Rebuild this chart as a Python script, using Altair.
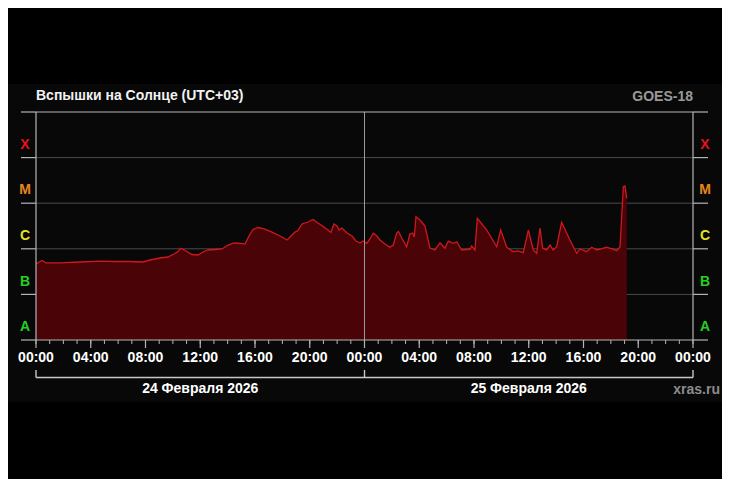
import altair as alt
import pandas as pd

# Hours since 24 Feb 2026 00:00 (UTC+03) and GOES X-ray flux (W/m^2)
hours = [0.00, 0.22, 0.44, 0.73, 1.75, 3.21, 4.68, 5.77, 6.87, 7.82, 8.33, 9.06, 9.64, 10.08,
         10.37, 10.59, 10.96, 11.40, 11.84, 12.20, 12.57, 13.15, 13.59, 14.03, 14.47, 14.98,
         15.27, 15.56, 15.85, 16.22, 16.66, 17.24, 17.83, 18.34, 18.63, 18.92, 19.14, 19.43,
         19.87, 20.24, 20.60, 21.04, 21.55, 21.77, 21.99, 22.14, 22.36, 22.72, 23.09, 23.38,
         23.67, 23.89, 24.16, 24.40, 24.64, 24.91, 25.13, 25.50, 25.86, 26.10, 26.35, 26.48,
         26.72, 27.08, 27.32, 27.52, 27.64, 27.76, 28.05, 28.42, 28.79, 29.15, 29.52, 29.88,
         30.12, 30.49, 30.74, 31.10, 31.42, 31.71, 31.83, 32.07, 32.24, 32.93, 33.66, 33.95,
         34.39, 34.87, 35.21, 35.60, 35.97, 36.33, 36.58, 36.82, 37.02, 37.31, 37.55, 37.79,
         38.04, 38.40, 39.01, 39.50, 39.74, 40.23, 40.60, 40.97, 41.28, 41.69, 42.08, 42.43,
         42.67, 42.91, 43.03, 43.16]
flux = [4.64e-7, 5.14e-7, 5.53e-7, 4.89e-7, 4.89e-7, 5.14e-7, 5.39e-7, 5.26e-7, 5.26e-7, 5.14e-7,
        5.68e-7, 6.28e-7, 6.61e-7, 7.69e-7, 8.73e-7, 1.02e-6, 8.96e-7, 7.50e-7, 7.31e-7, 8.51e-7,
        9.42e-7, 9.66e-7, 9.91e-7, 1.21e-6, 1.34e-6, 1.31e-6, 1.27e-6, 1.91e-6, 2.65e-6, 2.93e-6,
        2.72e-6, 2.33e-6, 1.91e-6, 1.56e-6, 1.91e-6, 2.33e-6, 2.52e-6, 3.50e-6, 3.87e-6, 4.40e-6,
        3.68e-6, 3.01e-6, 2.28e-6, 3.50e-6, 3.16e-6, 2.58e-6, 2.86e-6, 2.22e-6, 1.91e-6, 1.48e-6,
        1.34e-6, 1.48e-6, 1.32e-6, 1.64e-6, 2.19e-6, 1.91e-6, 1.56e-6, 1.27e-6, 1.08e-6, 1.21e-6,
        2.22e-6, 2.39e-6, 1.73e-6, 1.11e-6, 2.11e-6, 2.22e-6, 1.82e-6, 5.06e-6, 4.29e-6, 3.16e-6,
        1.04e-6, 9.42e-7, 1.36e-6, 1.03e-6, 1.48e-6, 1.32e-6, 1.43e-6, 9.42e-7, 9.66e-7, 9.75e-7,
        1.15e-6, 9.42e-7, 4.67e-6, 2.58e-6, 1.11e-6, 2.58e-6, 1.08e-6, 8.63e-7, 8.96e-7, 8.20e-7,
        2.58e-6, 9.42e-7, 7.96e-7, 2.86e-6, 1.03e-6, 9.42e-7, 1.21e-6, 9.42e-7, 1.11e-6, 3.81e-6,
        1.56e-6, 7.96e-7, 9.91e-7, 8.63e-7, 1.08e-6, 9.42e-7, 9.91e-7, 1.08e-6, 9.91e-7, 9.08e-7,
        1.11e-6, 2.30e-5, 2.38e-5, 1.28e-5]

classes = ["X", "M", "C", "B", "A"]
class_pos = [1.9e-4, 1.9e-5, 1.9e-6, 1.9e-7, 1.9e-8]
class_colors = ["#e4141c", "#e8861e", "#e6e21e", "#22d222", "#22d222"]
levels = [1e-8, 1e-7, 1e-6, 1e-5, 1e-4, 1e-3]
inner_levels = [1e-7, 1e-6, 1e-5, 1e-4]
frame_levels = [1e-8, 1e-3]
major_hours = [0, 4, 8, 12, 16, 20, 24, 28, 32, 36, 40, 44, 48]
major_labels = ["00:00", "04:00", "08:00", "12:00", "16:00", "20:00", "00:00",
                "04:00", "08:00", "12:00", "16:00", "20:00", "00:00"]
minor_hours = list(range(0, 49))
border_hours = [0, 48]
day_hours = [0, 24, 48]
day_centers = [12, 36]
day_labels = ["24 Февраля 2026", "25 Февраля 2026"]
title_text = "Вспышки на Солнце (UTC+03)"
sat_text = "GOES-18"
site_text = "xras.ru"

W, H = 657, 228
FONT = "Liberation Sans"
LIGHT = "#b4b4b4"

xs = alt.Scale(domain=[0, 48], nice=False, zero=False)
ys = alt.Scale(type="log", domain=[1e-8, 1e-3], nice=False)

df = pd.DataFrame({"h": hours, "f": flux})
one = pd.DataFrame({"a": [0]})

bg = alt.Chart(one).mark_rect(color="#080808").encode(
    x=alt.value(-28), x2=alt.value(W + 29), y=alt.value(-28), y2=alt.value(H + 62))

grid = alt.Chart(pd.DataFrame({"v": inner_levels})).mark_rule(color="#4a4a4a", strokeWidth=1).encode(
    y=alt.Y("v:Q", scale=ys, axis=None), x=alt.value(0), x2=alt.value(W))

frame = alt.Chart(pd.DataFrame({"v": frame_levels})).mark_rule(color=LIGHT, strokeWidth=1.2).encode(
    y=alt.Y("v:Q", scale=ys, axis=None), x=alt.value(0), x2=alt.value(W))

lev = pd.DataFrame({"v": levels})
out_l = alt.Chart(lev).mark_rule(color=LIGHT, strokeWidth=1.2).encode(
    y=alt.Y("v:Q", scale=ys, axis=None), x=alt.value(-15), x2=alt.value(0))
out_r = alt.Chart(lev).mark_rule(color=LIGHT, strokeWidth=1.2).encode(
    y=alt.Y("v:Q", scale=ys, axis=None), x=alt.value(W), x2=alt.value(W + 15))

area = alt.Chart(df).mark_area(color="#4a0407", opacity=1, clip=True).encode(
    x=alt.X("h:Q", scale=xs, axis=None),
    y=alt.Y("f:Q", scale=ys, axis=None, stack=None),
    y2=alt.value(H))
line = alt.Chart(df).mark_line(color="#d2161e", strokeWidth=1.3).encode(
    x=alt.X("h:Q", scale=xs, axis=None), y=alt.Y("f:Q", scale=ys, axis=None, stack=None))

borders = alt.Chart(pd.DataFrame({"h": border_hours})).mark_rule(color=LIGHT, strokeWidth=1.2).encode(
    x=alt.X("h:Q", scale=xs, axis=None), y=alt.value(0), y2=alt.value(H))
mid = alt.Chart(pd.DataFrame({"h": [24]})).mark_rule(color="#9a9a9a", strokeWidth=1).encode(
    x=alt.X("h:Q", scale=xs, axis=None), y=alt.value(0), y2=alt.value(H))
minor = alt.Chart(pd.DataFrame({"h": minor_hours})).mark_rule(color=LIGHT, strokeWidth=1).encode(
    x=alt.X("h:Q", scale=xs, axis=None), y=alt.value(H), y2=alt.value(H + 4))

tick_df = pd.DataFrame({"h": major_hours, "t": major_labels})
major = alt.Chart(tick_df).mark_rule(color=LIGHT, strokeWidth=1.2).encode(
    x=alt.X("h:Q", scale=xs, axis=None), y=alt.value(H), y2=alt.value(H + 8))
tick_text = alt.Chart(tick_df).mark_text(
    color="#ffffff", font=FONT, fontWeight="bold", fontSize=14, align="center", baseline="alphabetic").encode(
    x=alt.X("h:Q", scale=xs, axis=None), y=alt.value(H + 22), text="t:N")

bracket = alt.Chart(one).mark_rule(color="#c8c8c8", strokeWidth=1.4).encode(
    x=alt.datum(0, scale=xs, axis=None), x2=alt.datum(48), y=alt.value(H + 37.5))
bracket_ends = alt.Chart(pd.DataFrame({"h": day_hours})).mark_rule(color="#c8c8c8", strokeWidth=1.4).encode(
    x=alt.X("h:Q", scale=xs, axis=None), y=alt.value(H + 30), y2=alt.value(H + 37.5))

days = alt.Chart(pd.DataFrame({"h": day_centers, "t": day_labels})).mark_text(
    color="#ffffff", font=FONT, fontWeight="bold", fontSize=14, align="center", baseline="alphabetic").encode(
    x=alt.X("h:Q", scale=xs, axis=None), y=alt.value(H + 53), text="t:N")

site = alt.Chart(pd.DataFrame({"t": [site_text]})).mark_text(
    color="#8c8c8c", font=FONT, fontWeight="bold", fontSize=14, align="right", baseline="alphabetic").encode(
    x=alt.value(W + 27), y=alt.value(H + 54), text="t:N")

title = alt.Chart(pd.DataFrame({"t": [title_text]})).mark_text(
    color="#f2f2f2", font=FONT, fontWeight="bold", fontSize=14, align="left", baseline="alphabetic").encode(
    x=alt.value(0), y=alt.value(-12), text="t:N")

sat = alt.Chart(pd.DataFrame({"t": [sat_text]})).mark_text(
    color="#9a9a9a", font=FONT, fontWeight="bold", fontSize=14, align="right", baseline="alphabetic").encode(
    x=alt.value(W), y=alt.value(-11), text="t:N")

cls_df = pd.DataFrame({"c": classes, "m": class_pos})
cls_color = alt.Color("c:N", scale=alt.Scale(domain=classes, range=class_colors), legend=None)
cls_l = alt.Chart(cls_df).mark_text(font=FONT, fontWeight="bold", fontSize=14, align="center", baseline="middle").encode(
    x=alt.value(-11), y=alt.Y("m:Q", scale=ys, axis=None), text="c:N", color=cls_color)
cls_r = alt.Chart(cls_df).mark_text(font=FONT, fontWeight="bold", fontSize=14, align="center", baseline="middle").encode(
    x=alt.value(W + 12), y=alt.Y("m:Q", scale=ys, axis=None), text="c:N", color=cls_color)

chart = alt.layer(
    bg, grid, area, line, mid, borders, frame, out_l, out_r, minor, major, tick_text,
    bracket, bracket_ends, days, site, title, sat, cls_l, cls_r
).properties(
    width=W, height=H,
    padding={"left": 28, "top": 104, "right": 29, "bottom": 139},
    autosize=alt.AutoSizeParams(type="none"),
    background="#000000",
).configure_view(stroke=None)

chart.save("out.html", embed_options={"renderer": "svg", "actions": False})
